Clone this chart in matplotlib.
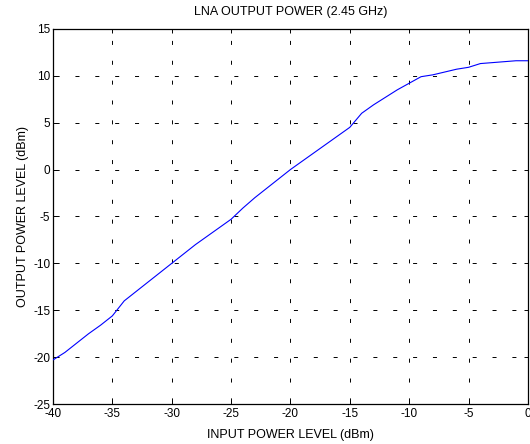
import matplotlib
matplotlib.use('Agg')
import numpy as np
import matplotlib.pyplot as plt

# ─── data ────────────────────────────────────────────────────────────────────
pin = [-40, -39, -38, -37, -36, -35, -34, -33, -32, -31, -30, -29, -28, -27,
       -26, -25, -24, -23, -22, -21, -20, -19, -18, -17, -16, -15, -14, -13,
       -12, -11, -10, -9, -8, -7, -6, -5, -4, -3, -2, -1, 0]
pout = [-20.3, -19.5, -18.5, -17.5, -16.6, -15.6, -14.0, -13.0, -12.0, -11.0,
        -10.0, -9.0, -8.0, -7.1, -6.2, -5.3, -4.1, -3.0, -2.0, -1.0, 0.0,
        0.9, 1.8, 2.7, 3.6, 4.5, 6.0, 6.9, 7.7, 8.5, 9.2, 9.9, 10.1, 10.4,
        10.7, 10.9, 11.3, 11.4, 11.5, 11.6, 11.6]
xticks = list(range(-40, 1, 5))
yticks = list(range(-25, 16, 5))

plt.rcParams['font.family'] = ['Liberation Sans', 'DejaVu Sans']
plt.rcParams['lines.scale_dashes'] = False
plt.rcParams['axes.unicode_minus'] = False

fig = plt.figure(figsize=(5.3, 4.44), dpi=100)
ax = fig.add_axes([0.1, 0.09, 0.896, 0.845])

ax.plot(pin, pout, color='#0000ff', linewidth=0.8, zorder=3)

ax.set_xlim(-40, 0)
ax.set_ylim(-25, 15)
ax.set_xticks(xticks)
ax.set_yticks(yticks)
# sparse MATLAB-like dotted grid: short dash, long gap
ax.grid(True, color='black', linewidth=0.7, linestyle=(12.8, (2.9, 11.4)))
ax.tick_params(direction='in', top=True, right=True, labelsize=8.5,
               length=3, width=0.7, pad=2)
ax.tick_params(axis='x', pad=3)
for s in ax.spines.values():
    s.set_linewidth(0.9)

ax.set_title('LNA OUTPUT POWER (2.45 GHz)', fontsize=9, pad=10)
ax.set_xlabel('INPUT POWER LEVEL (dBm)', fontsize=9, labelpad=6)
ax.set_ylabel('OUTPUT POWER LEVEL (dBm)', fontsize=9, labelpad=3)

fig.savefig('out.png', dpi=100)
